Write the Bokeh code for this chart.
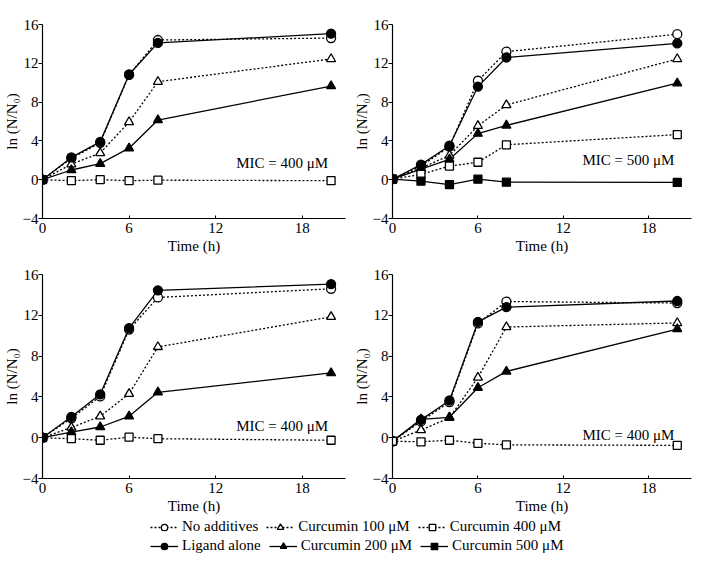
from bokeh.plotting import figure
from bokeh.models import Range1d, FixedTicker, Legend, LegendItem, Label
from bokeh.layouts import column, row
from bokeh.embed import file_html
from bokeh.resources import INLINE

time_h = [0, 2, 4, 6, 8, 20]
series_names = ["No additives", "Ligand alone", "Curcumin 100 μM",
                "Curcumin 200 μM", "Curcumin 400 μM", "Curcumin 500 μM"]
x_ticks = [0, 6, 12, 18]
y_ticks = [-4, 0, 4, 8, 12, 16]

# Panel A (top-left)
a_no_additives = [0, 2.2, 3.8, 10.8, 14.4, 14.6]
a_ligand = [0, 2.3, 3.9, 10.85, 14.1, 15.05]
a_cur100 = [0, 1.6, 2.75, 5.95, 10.1, 12.45]
a_cur200 = [0, 1.0, 1.65, 3.25, 6.15, 9.65]
a_cur400 = [0, -0.1, 0.0, -0.1, -0.05, -0.1]
a_mic = "MIC = 400 μM"

# Panel B (top-right)
b_no_additives = [0.05, 1.4, 3.4, 10.2, 13.2, 15.0]
b_ligand = [0.05, 1.55, 3.5, 9.6, 12.6, 14.05]
b_cur100 = [0.05, 1.2, 2.5, 5.55, 7.7, 12.45]
b_cur200 = [0.05, 1.1, 2.1, 4.75, 5.6, 9.95]
b_cur400 = [0.05, 0.55, 1.4, 1.8, 3.6, 4.65]
b_cur500 = [0.05, -0.15, -0.5, 0.05, -0.25, -0.28]
b_mic = "MIC = 500 μM"

# Panel C (bottom-left)
c_no_additives = [0, 1.9, 4.05, 10.6, 13.75, 14.6]
c_ligand = [0, 2.05, 4.25, 10.75, 14.45, 15.05]
c_cur100 = [0, 1.0, 2.1, 4.3, 8.9, 11.85]
c_cur200 = [0, 0.55, 1.05, 2.1, 4.45, 6.35]
c_cur400 = [0, -0.1, -0.25, 0.05, -0.1, -0.25]
c_mic = "MIC = 400 μM"

# Panel D (bottom-right)
d_no_additives = [-0.35, 1.6, 3.5, 11.2, 13.35, 13.2]
d_ligand = [-0.35, 1.75, 3.65, 11.35, 12.8, 13.4]
d_cur100 = [-0.35, 0.75, 1.95, 5.9, 10.85, 11.25]
d_cur200 = [-0.35, 1.8, 2.0, 4.9, 6.5, 10.65]
d_cur400 = [-0.35, -0.4, -0.25, -0.55, -0.7, -0.75]
d_mic = "MIC = 400 μM"

FONT = "Liberation Serif"
STYLES = {
    "No additives": dict(marker="circle", fill="white", dash="2 2", size=9),
    "Ligand alone": dict(marker="circle", fill="black", dash="solid", size=9),
    "Curcumin 100 μM": dict(marker="triangle", fill="white", dash="2 2", size=9),
    "Curcumin 200 μM": dict(marker="triangle", fill="black", dash="solid", size=9),
    "Curcumin 400 μM": dict(marker="square", fill="white", dash="2 2", size=8),
    "Curcumin 500 μM": dict(marker="square", fill="black", dash="solid", size=8),
}


def make_panel(series, mic, mic_y, width, height, bl, br, bt, bb):
    p = figure(width=width, height=height, output_backend="svg", toolbar_location=None,
               x_range=Range1d(0, 21), y_range=Range1d(-4, 16),
               min_border_left=bl, min_border_right=br, min_border_top=bt, min_border_bottom=bb)
    p.outline_line_color = None
    p.grid.visible = False
    p.background_fill_color = None
    p.border_fill_color = None
    for name, vals in series:
        st = STYLES[name]
        p.line(time_h, vals, line_color="black", line_width=1.3, line_dash=st["dash"])
    for name, vals in series:
        st = STYLES[name]
        p.scatter(time_h, vals, marker=st["marker"], size=st["size"], fill_color=st["fill"],
                  line_color="black", line_width=1.3)
    p.add_layout(Label(x=19.8, y=mic_y, text=mic, text_align="right", text_baseline="middle",
                       text_font=FONT, text_font_size="15px", text_color="black"))
    p.xaxis.ticker = FixedTicker(ticks=x_ticks)
    p.yaxis.ticker = FixedTicker(ticks=y_ticks)
    p.yaxis.major_label_overrides = {-4: "\u22124"}
    p.xaxis.axis_label = "Time (h)"
    p.yaxis.axis_label = "ln (N/N\u2080)"
    for ax in (p.xaxis[0], p.yaxis[0]):
        ax.axis_line_color = "black"
        ax.axis_line_width = 1.2
        ax.major_tick_line_color = "black"
        ax.minor_tick_line_color = None
        ax.major_label_text_font = FONT
        ax.major_label_text_font_size = "15px"
        ax.major_label_text_color = "black"
        ax.axis_label_text_font = FONT
        ax.axis_label_text_font_size = "15px"
        ax.axis_label_text_font_style = "normal"
        ax.axis_label_text_color = "black"
    p.xaxis.major_tick_in = 3
    p.xaxis.major_tick_out = 0
    p.xaxis.major_label_standoff = 4
    p.xaxis.axis_label_standoff = 2
    p.yaxis.major_tick_in = 0
    p.yaxis.major_tick_out = 4
    p.yaxis.major_label_standoff = 0
    p.yaxis.axis_label_standoff = 0
    return p


pa = make_panel([("No additives", a_no_additives), ("Curcumin 100 μM", a_cur100),
                 ("Curcumin 200 μM", a_cur200), ("Curcumin 400 μM", a_cur400),
                 ("Ligand alone", a_ligand)],
                a_mic, 1.7, 350, 264, 33, 5, 10, 46)
pb = make_panel([("No additives", b_no_additives), ("Ligand alone", b_ligand),
                 ("Curcumin 100 μM", b_cur100), ("Curcumin 200 μM", b_cur200),
                 ("Curcumin 400 μM", b_cur400), ("Curcumin 500 μM", b_cur500)],
                b_mic, 2.0, 344, 264, 38, 3, 24, 46)
pc = make_panel([("No additives", c_no_additives), ("Curcumin 100 μM", c_cur100),
                 ("Curcumin 200 μM", c_cur200), ("Curcumin 400 μM", c_cur400),
                 ("Ligand alone", c_ligand)],
                c_mic, 1.1, 350, 254, 33, 5, 10, 40)
pd_ = make_panel([("No additives", d_no_additives), ("Ligand alone", d_ligand),
                  ("Curcumin 100 μM", d_cur100), ("Curcumin 200 μM", d_cur200),
                  ("Curcumin 400 μM", d_cur400)],
                 d_mic, 0.3, 344, 254, 38, 3, 10, 40)

# legend figure (its sample renderers lie outside the visible range)
pl = figure(width=694, height=36, output_backend="svg", toolbar_location=None,
            x_range=Range1d(-100, -99), y_range=Range1d(-100, -99),
            min_border_left=0, min_border_right=0, min_border_top=0, min_border_bottom=0)
pl.axis.visible = False
pl.grid.visible = False
pl.outline_line_color = None
pl.border_fill_color = None
pl.background_fill_color = None
items = {}
for name in series_names:
    st = STYLES[name]
    r1 = pl.line(time_h, a_cur200, line_color="black", line_width=1.3, line_dash=st["dash"])
    r2 = pl.scatter(time_h, a_cur200, marker=st["marker"], size=st["size"] - 1,
                    fill_color=st["fill"], line_color="black", line_width=1.3)
    items[name] = LegendItem(label=name, renderers=[r1, r2])

rows = [["No additives", "Curcumin 100 μM", "Curcumin 400 μM"],
        ["Ligand alone", "Curcumin 200 μM", "Curcumin 500 μM"]]
for i, names in enumerate(rows):
    lg = Legend(items=[items[n] for n in names], orientation="horizontal",
                location=(150, 19 - i * 19), glyph_width=28, glyph_height=16,
                label_standoff=4, spacing=8, padding=0, margin=0,
                label_text_font=FONT, label_text_font_size="15px", label_text_color="black",
                label_height=16, border_line_color=None, background_fill_alpha=0)
    pl.add_layout(lg, "center")

layout = column(row(pa, pb), row(pc, pd_), pl)
open("out.html", "w").write(file_html(layout, INLINE))
